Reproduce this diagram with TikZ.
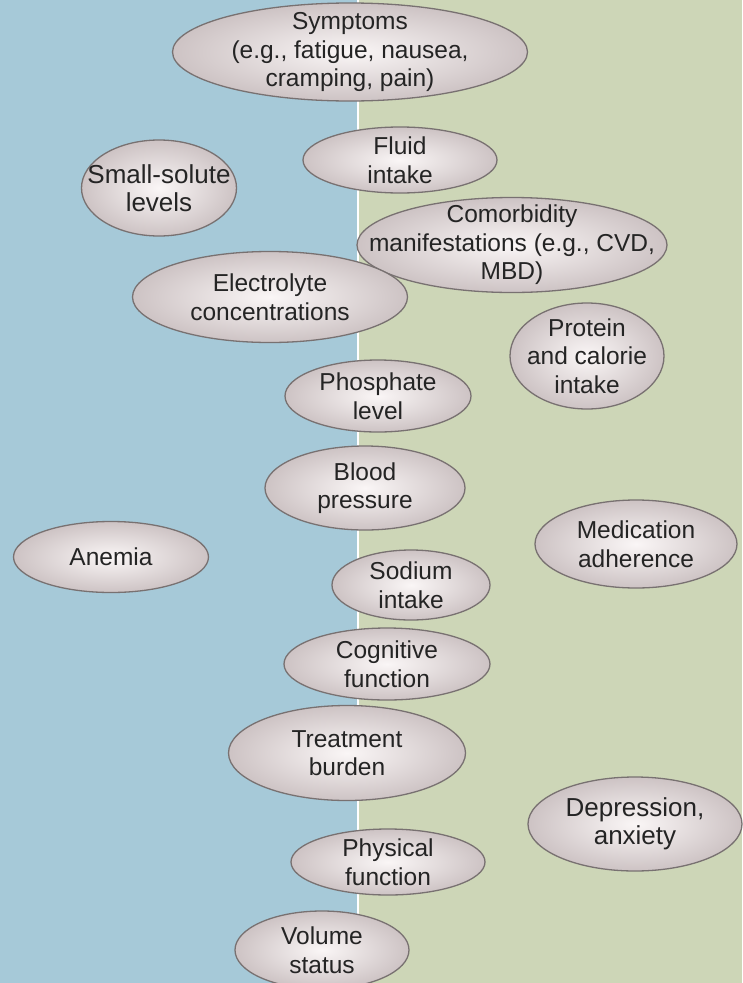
\documentclass[tikz,border=0pt]{standalone}
\usepackage{fontspec}
\setmainfont{Liberation Sans}
\usetikzlibrary{shapes.geometric}
\definecolor{bgblue}{RGB}{166,201,216}
\definecolor{bggreen}{RGB}{205,214,183}
\definecolor{elin}{RGB}{250,246,246}
\definecolor{elout}{RGB}{205,195,196}
\definecolor{eldraw}{RGB}{120,113,113}
\definecolor{txt}{RGB}{36,36,36}
\tikzset{
  oval/.style={ellipse, draw=eldraw, line width=1.3pt, inner sep=0pt,
    inner color=elin, outer color=elout},
  ovaltext/.style={text=txt, align=center, inner sep=0pt},
}
\newcommand{\ov}[7][24.5]{%
  \node[oval, minimum width=#4pt, minimum height=#5pt] (#6) at (#2pt,-#3pt) {};
  \node[ovaltext, font=\fontsize{#1}{28.5}\selectfont] (#6-t) at (#6.center) {#7};}
\begin{document}
\begin{tikzpicture}
\useasboundingbox (0,0) rectangle (742pt,-983pt);
\fill[bgblue] (0,0) rectangle (358pt,-983pt);
\fill[bggreen] (358pt,0) rectangle (742pt,-983pt);
\draw[white, line width=1.6pt] (358pt,0) -- (358pt,-983pt);
\ov{350}{52}{355}{98}{symp}{Symptoms\\(e.g., fatigue, nausea,\\cramping, pain)}
\ov{400}{160}{194}{66}{fluid}{Fluid\\intake}
\ov[26]{159}{188}{155}{96}{small}{Small-solute\\levels}
\ov{512}{245}{310}{95}{comor}{Comorbidity\\manifestations (e.g., CVD,\\MBD)}
\ov{270}{297}{275}{91}{elec}{Electrolyte\\concentrations}
\ov{587}{356}{154}{106}{prot}{Protein\\and calorie\\intake}
\ov{378}{396}{186}{72}{phos}{Phosphate\\level}
\ov{365}{488}{200}{84}{bp}{Blood\\pressure}
\ov{111}{557}{195}{71}{anem}{Anemia}
\ov{636}{544}{202}{88}{med}{Medication\\adherence}
\ov{411}{585}{158}{70}{sod}{Sodium\\intake}
\ov{387}{664}{206}{72}{cog}{Cognitive\\function}
\ov{347}{753}{237}{95}{treat}{Treatment\\burden}
\ov[26]{635}{824}{214}{94}{dep}{Depression,\\anxiety}
\ov{388}{862}{194}{66}{phys}{Physical\\function}
\ov{322}{950}{174}{78}{vol}{Volume\\status}
\end{tikzpicture}
\end{document}
